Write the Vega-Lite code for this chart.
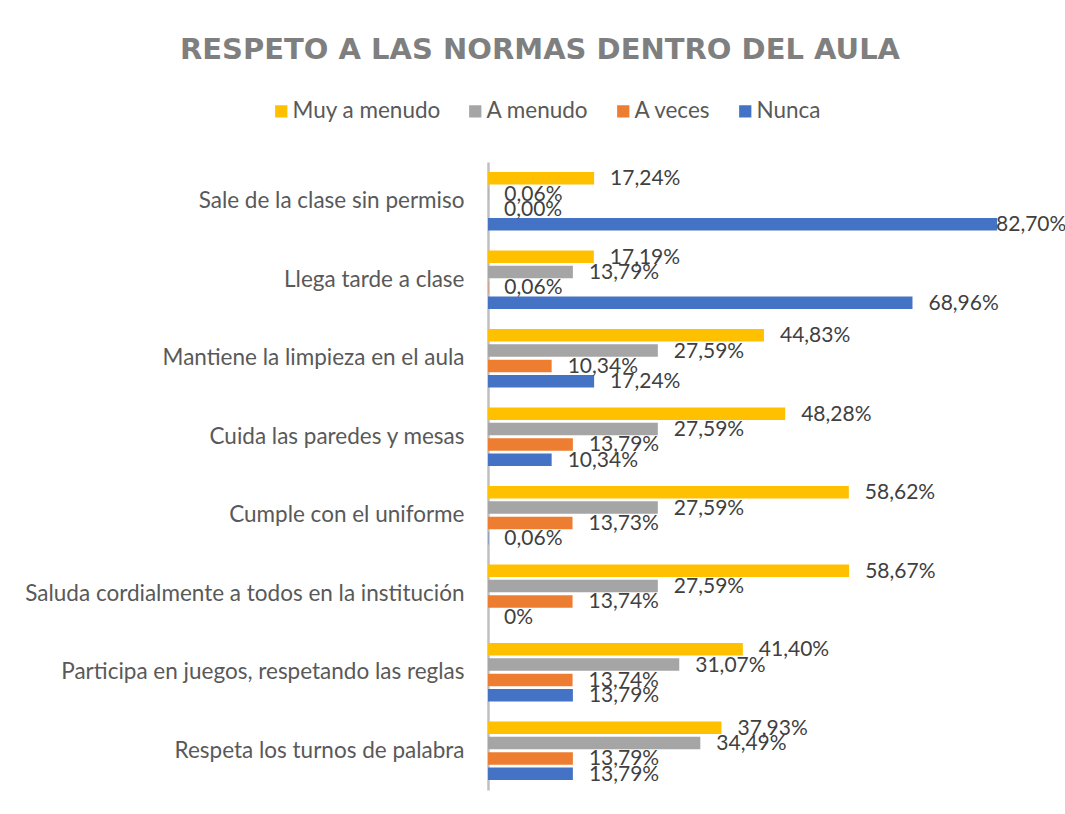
{
  "$schema": "https://vega.github.io/schema/vega-lite/v6.json",
  "autosize": {"type": "none"},
  "width": 554,
  "height": 628,
  "padding": {"left": 488, "top": 162, "right": 23, "bottom": 24},
  "background": "white",
  "config": {
    "font": "Lato",
    "view": {"stroke": null}
  },
  "title": {
    "text": "RESPETO A LAS NORMAS DENTRO DEL AULA",
    "anchor": "middle",
    "frame": "group",
    "dx": -225,
    "offset": 12,
    "baseline": "alphabetic",
    "fontSize": 29,
    "fontWeight": "bold",
    "color": "#7f7f7f",
    "font": "DejaVu Sans"
  },
  "data": {
    "values": [
      {"cat": "Sale de la clase sin permiso", "serie": "Muy a menudo", "valor": 17.24, "etiqueta": "17,24%"},
      {"cat": "Sale de la clase sin permiso", "serie": "A menudo", "valor": 0.06, "etiqueta": "0,06%"},
      {"cat": "Sale de la clase sin permiso", "serie": "A veces", "valor": 0.0, "etiqueta": "0,00%"},
      {"cat": "Sale de la clase sin permiso", "serie": "Nunca", "valor": 82.70, "etiqueta": "82,70%"},
      {"cat": "Llega  tarde a clase", "serie": "Muy a menudo", "valor": 17.19, "etiqueta": "17,19%"},
      {"cat": "Llega  tarde a clase", "serie": "A menudo", "valor": 13.79, "etiqueta": "13,79%"},
      {"cat": "Llega  tarde a clase", "serie": "A veces", "valor": 0.06, "etiqueta": "0,06%"},
      {"cat": "Llega  tarde a clase", "serie": "Nunca", "valor": 68.96, "etiqueta": "68,96%"},
      {"cat": "Mantiene la limpieza en el aula", "serie": "Muy a menudo", "valor": 44.83, "etiqueta": "44,83%"},
      {"cat": "Mantiene la limpieza en el aula", "serie": "A menudo", "valor": 27.59, "etiqueta": "27,59%"},
      {"cat": "Mantiene la limpieza en el aula", "serie": "A veces", "valor": 10.34, "etiqueta": "10,34%"},
      {"cat": "Mantiene la limpieza en el aula", "serie": "Nunca", "valor": 17.24, "etiqueta": "17,24%"},
      {"cat": "Cuida las paredes y mesas", "serie": "Muy a menudo", "valor": 48.28, "etiqueta": "48,28%"},
      {"cat": "Cuida las paredes y mesas", "serie": "A menudo", "valor": 27.59, "etiqueta": "27,59%"},
      {"cat": "Cuida las paredes y mesas", "serie": "A veces", "valor": 13.79, "etiqueta": "13,79%"},
      {"cat": "Cuida las paredes y mesas", "serie": "Nunca", "valor": 10.34, "etiqueta": "10,34%"},
      {"cat": "Cumple con el uniforme", "serie": "Muy a menudo", "valor": 58.62, "etiqueta": "58,62%"},
      {"cat": "Cumple con el uniforme", "serie": "A menudo", "valor": 27.59, "etiqueta": "27,59%"},
      {"cat": "Cumple con el uniforme", "serie": "A veces", "valor": 13.73, "etiqueta": "13,73%"},
      {"cat": "Cumple con el uniforme", "serie": "Nunca", "valor": 0.06, "etiqueta": "0,06%"},
      {"cat": "Saluda cordialmente a todos en la institución", "serie": "Muy a menudo", "valor": 58.67, "etiqueta": "58,67%"},
      {"cat": "Saluda cordialmente a todos en la institución", "serie": "A menudo", "valor": 27.59, "etiqueta": "27,59%"},
      {"cat": "Saluda cordialmente a todos en la institución", "serie": "A veces", "valor": 13.74, "etiqueta": "13,74%"},
      {"cat": "Saluda cordialmente a todos en la institución", "serie": "Nunca", "valor": 0, "etiqueta": "0%"},
      {"cat": "Participa en juegos, respetando las reglas", "serie": "Muy a menudo", "valor": 41.40, "etiqueta": "41,40%"},
      {"cat": "Participa en juegos, respetando las reglas", "serie": "A menudo", "valor": 31.07, "etiqueta": "31,07%"},
      {"cat": "Participa en juegos, respetando las reglas", "serie": "A veces", "valor": 13.74, "etiqueta": "13,74%"},
      {"cat": "Participa en juegos, respetando las reglas", "serie": "Nunca", "valor": 13.79, "etiqueta": "13,79%"},
      {"cat": "Respeta los turnos de palabra", "serie": "Muy a menudo", "valor": 37.93, "etiqueta": "37,93%"},
      {"cat": "Respeta los turnos de palabra", "serie": "A menudo", "valor": 34.49, "etiqueta": "34,49%"},
      {"cat": "Respeta los turnos de palabra", "serie": "A veces", "valor": 13.79, "etiqueta": "13,79%"},
      {"cat": "Respeta los turnos de palabra", "serie": "Nunca", "valor": 13.79, "etiqueta": "13,79%"}
    ]
  },
  "encoding": {
    "y": {
      "field": "cat",
      "type": "nominal",
      "sort": null,
      "scale": {"paddingInner": 0.22, "paddingOuter": 0.11},
      "axis": {
        "title": null,
        "ticks": false,
        "domainColor": "#bfbfbf",
        "domainWidth": 2.5,
        "labelFontSize": 22.5,
        "labelColor": "#595959",
        "labelPadding": 24,
        "labelLimit": 0,
        "grid": false
      }
    },
    "yOffset": {
      "field": "serie",
      "type": "nominal",
      "sort": ["Muy a menudo", "A menudo", "A veces", "Nunca"],
      "scale": {"paddingInner": 0.18, "paddingOuter": 0.09}
    },
    "x": {
      "field": "valor",
      "type": "quantitative",
      "scale": {"domain": [0, 90], "nice": false, "zero": true},
      "axis": null
    }
  },
  "layer": [
    {
      "mark": {"type": "bar"},
      "encoding": {
        "color": {
          "field": "serie",
          "type": "nominal",
          "sort": ["Muy a menudo", "A menudo", "A veces", "Nunca"],
          "scale": {
            "domain": ["Muy a menudo", "A menudo", "A veces", "Nunca"],
            "range": ["#ffc000", "#a5a5a5", "#ed7d31", "#4472c4"]
          },
          "legend": {
            "title": null,
            "orient": "none",
            "direction": "horizontal",
            "legendX": -218,
            "legendY": -62,
            "symbolType": "square",
            "symbolSize": 150,
            "symbolStrokeWidth": 0,
            "labelFontSize": 22.5,
            "labelColor": "#595959",
            "labelOffset": 0,
            "columnPadding": 23
          }
        }
      }
    },
    {
      "transform": [{"filter": "datum.valor < 80"}],
      "mark": {"type": "text", "align": "left", "baseline": "middle", "dx": 16, "dy": 1, "fontSize": 21, "color": "#404040"},
      "encoding": {"text": {"field": "etiqueta"}}
    },
    {
      "transform": [{"filter": "datum.valor >= 80"}],
      "mark": {"type": "text", "align": "left", "baseline": "middle", "dx": -1, "dy": 1, "fontSize": 21, "color": "#404040"},
      "encoding": {"text": {"field": "etiqueta"}}
    }
  ]
}
